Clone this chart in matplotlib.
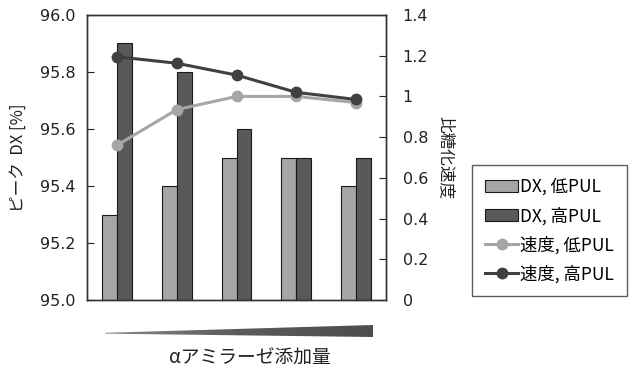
import matplotlib
matplotlib.use("Agg")
import matplotlib.pyplot as plt
import numpy as np
from matplotlib.patches import Polygon
from matplotlib.lines import Line2D
from matplotlib.patches import Patch
from matplotlib.ticker import FuncFormatter
from matplotlib.colors import LinearSegmentedColormap

plt.rcParams['font.family'] = ['DejaVu Sans', 'Noto Sans CJK JP']
JP = ['Noto Sans CJK JP', 'DejaVu Sans']

categories = [1, 2, 3, 4, 5]
dx_low = [95.3, 95.4, 95.5, 95.5, 95.4]
dx_high = [95.9, 95.8, 95.6, 95.5, 95.5]
rate_low = [0.76, 0.935, 1.0, 1.0, 0.97]
rate_high = [1.195, 1.163, 1.105, 1.02, 0.985]
left_ticks = [95.0, 95.2, 95.4, 95.6, 95.8, 96.0]
right_ticks = [0, 0.2, 0.4, 0.6, 0.8, 1.0, 1.2, 1.4]

W, H = 632, 375
fig = plt.figure(figsize=(W / 100, H / 100), dpi=100)
ax = fig.add_axes([87 / W, 1 - 300 / H, 299 / W, 285 / H])

x = np.arange(len(categories))
bw = 0.25
c_low, c_high = '#a6a6a6', '#595959'
ax.bar(x - bw / 2, [v - 95.0 for v in dx_low], bw, bottom=95.0, color=c_low,
       edgecolor='#1a1a1a', linewidth=0.8)
ax.bar(x + bw / 2, [v - 95.0 for v in dx_high], bw, bottom=95.0, color=c_high,
       edgecolor='#1a1a1a', linewidth=0.8)
ax.set_xlim(-0.5, len(categories) - 0.5)
ax.set_ylim(95.0, 96.0)
ax.set_yticks(left_ticks)
ax.yaxis.set_major_formatter(FuncFormatter(lambda v, p: f'{v:.1f}'))
ax.set_xticks([])
ax.tick_params(axis='y', direction='in', length=5, width=0.8, labelsize=11.5,
               colors='#222222', pad=8)
for s in ax.spines.values():
    s.set_linewidth(1.0)
    s.set_color('#333333')
ax.set_ylabel('ピーク  DX [%]', family=JP, fontsize=12, color='#222222', labelpad=10)

ax2 = ax.twinx()
ax2.plot(x, rate_low, color='#a6a6a6', lw=2.2, marker='o', ms=7.5)
ax2.plot(x, rate_high, color='#404040', lw=2.2, marker='o', ms=7.5)
ax2.set_ylim(0, 1.4)
ax2.set_yticks(right_ticks)
ax2.yaxis.set_major_formatter(FuncFormatter(lambda v, p: f'{v:g}'))
ax2.tick_params(axis='y', direction='in', length=5, width=0.8, labelsize=11.5,
                colors='#222222', pad=12)
for s in ax2.spines.values():
    s.set_linewidth(1.0)
    s.set_color('#333333')
ax2.set_ylabel('比糖化速度', family=JP, fontsize=12, rotation=270, color='#222222',
               labelpad=19)

handles = [
    Patch(facecolor=c_low, edgecolor='#1a1a1a', linewidth=0.8),
    Patch(facecolor=c_high, edgecolor='#1a1a1a', linewidth=0.8),
    Line2D([], [], color='#a6a6a6', lw=2.2, marker='o', ms=7.5),
    Line2D([], [], color='#404040', lw=2.2, marker='o', ms=7.5),
]
labels = ['DX, 低PUL', 'DX, 高PUL', '速度, 低PUL', '速度, 高PUL']
leg = fig.legend(handles, labels, loc='upper left',
                 bbox_to_anchor=(472 / W, 1 - 165 / H), prop={'family': JP, 'size': 12.5},
                 frameon=True, fancybox=False, edgecolor='#333333',
                 handlelength=1.9, handletextpad=0.1, labelspacing=0.62,
                 borderpad=0.75, borderaxespad=0)
leg.get_frame().set_linewidth(1.0)

# gradient wedge below the axis (increasing amount)
x0, x1, ytop, ybot = 105, 373, 325, 337
wax = fig.add_axes([x0 / W, 1 - ybot / H, (x1 - x0) / W, (ybot - ytop) / H])
wax.set_axis_off()
wax.set_xlim(0, 1)
wax.set_ylim(0, 1)
cmap = LinearSegmentedColormap.from_list('g', ['#8a8a8a', '#5a5a5a', '#4d4d4d'])
grad = np.linspace(0, 1, 256).reshape(1, -1)
im = wax.imshow(grad, cmap=cmap, aspect='auto', extent=(0, 1, 0, 1))
poly = Polygon([(0, 0.35), (1, 1), (1, 0), (0, 0.28)], closed=True,
               transform=wax.transData, facecolor='none', edgecolor='none')
wax.add_patch(poly)
im.set_clip_path(poly)

fig.text(250 / W, 1 - 358 / H, 'αアミラーゼ添加量', family=JP, fontsize=13.5,
         ha='center', va='center', color='#222222')

fig.savefig('out.png', dpi=100)
